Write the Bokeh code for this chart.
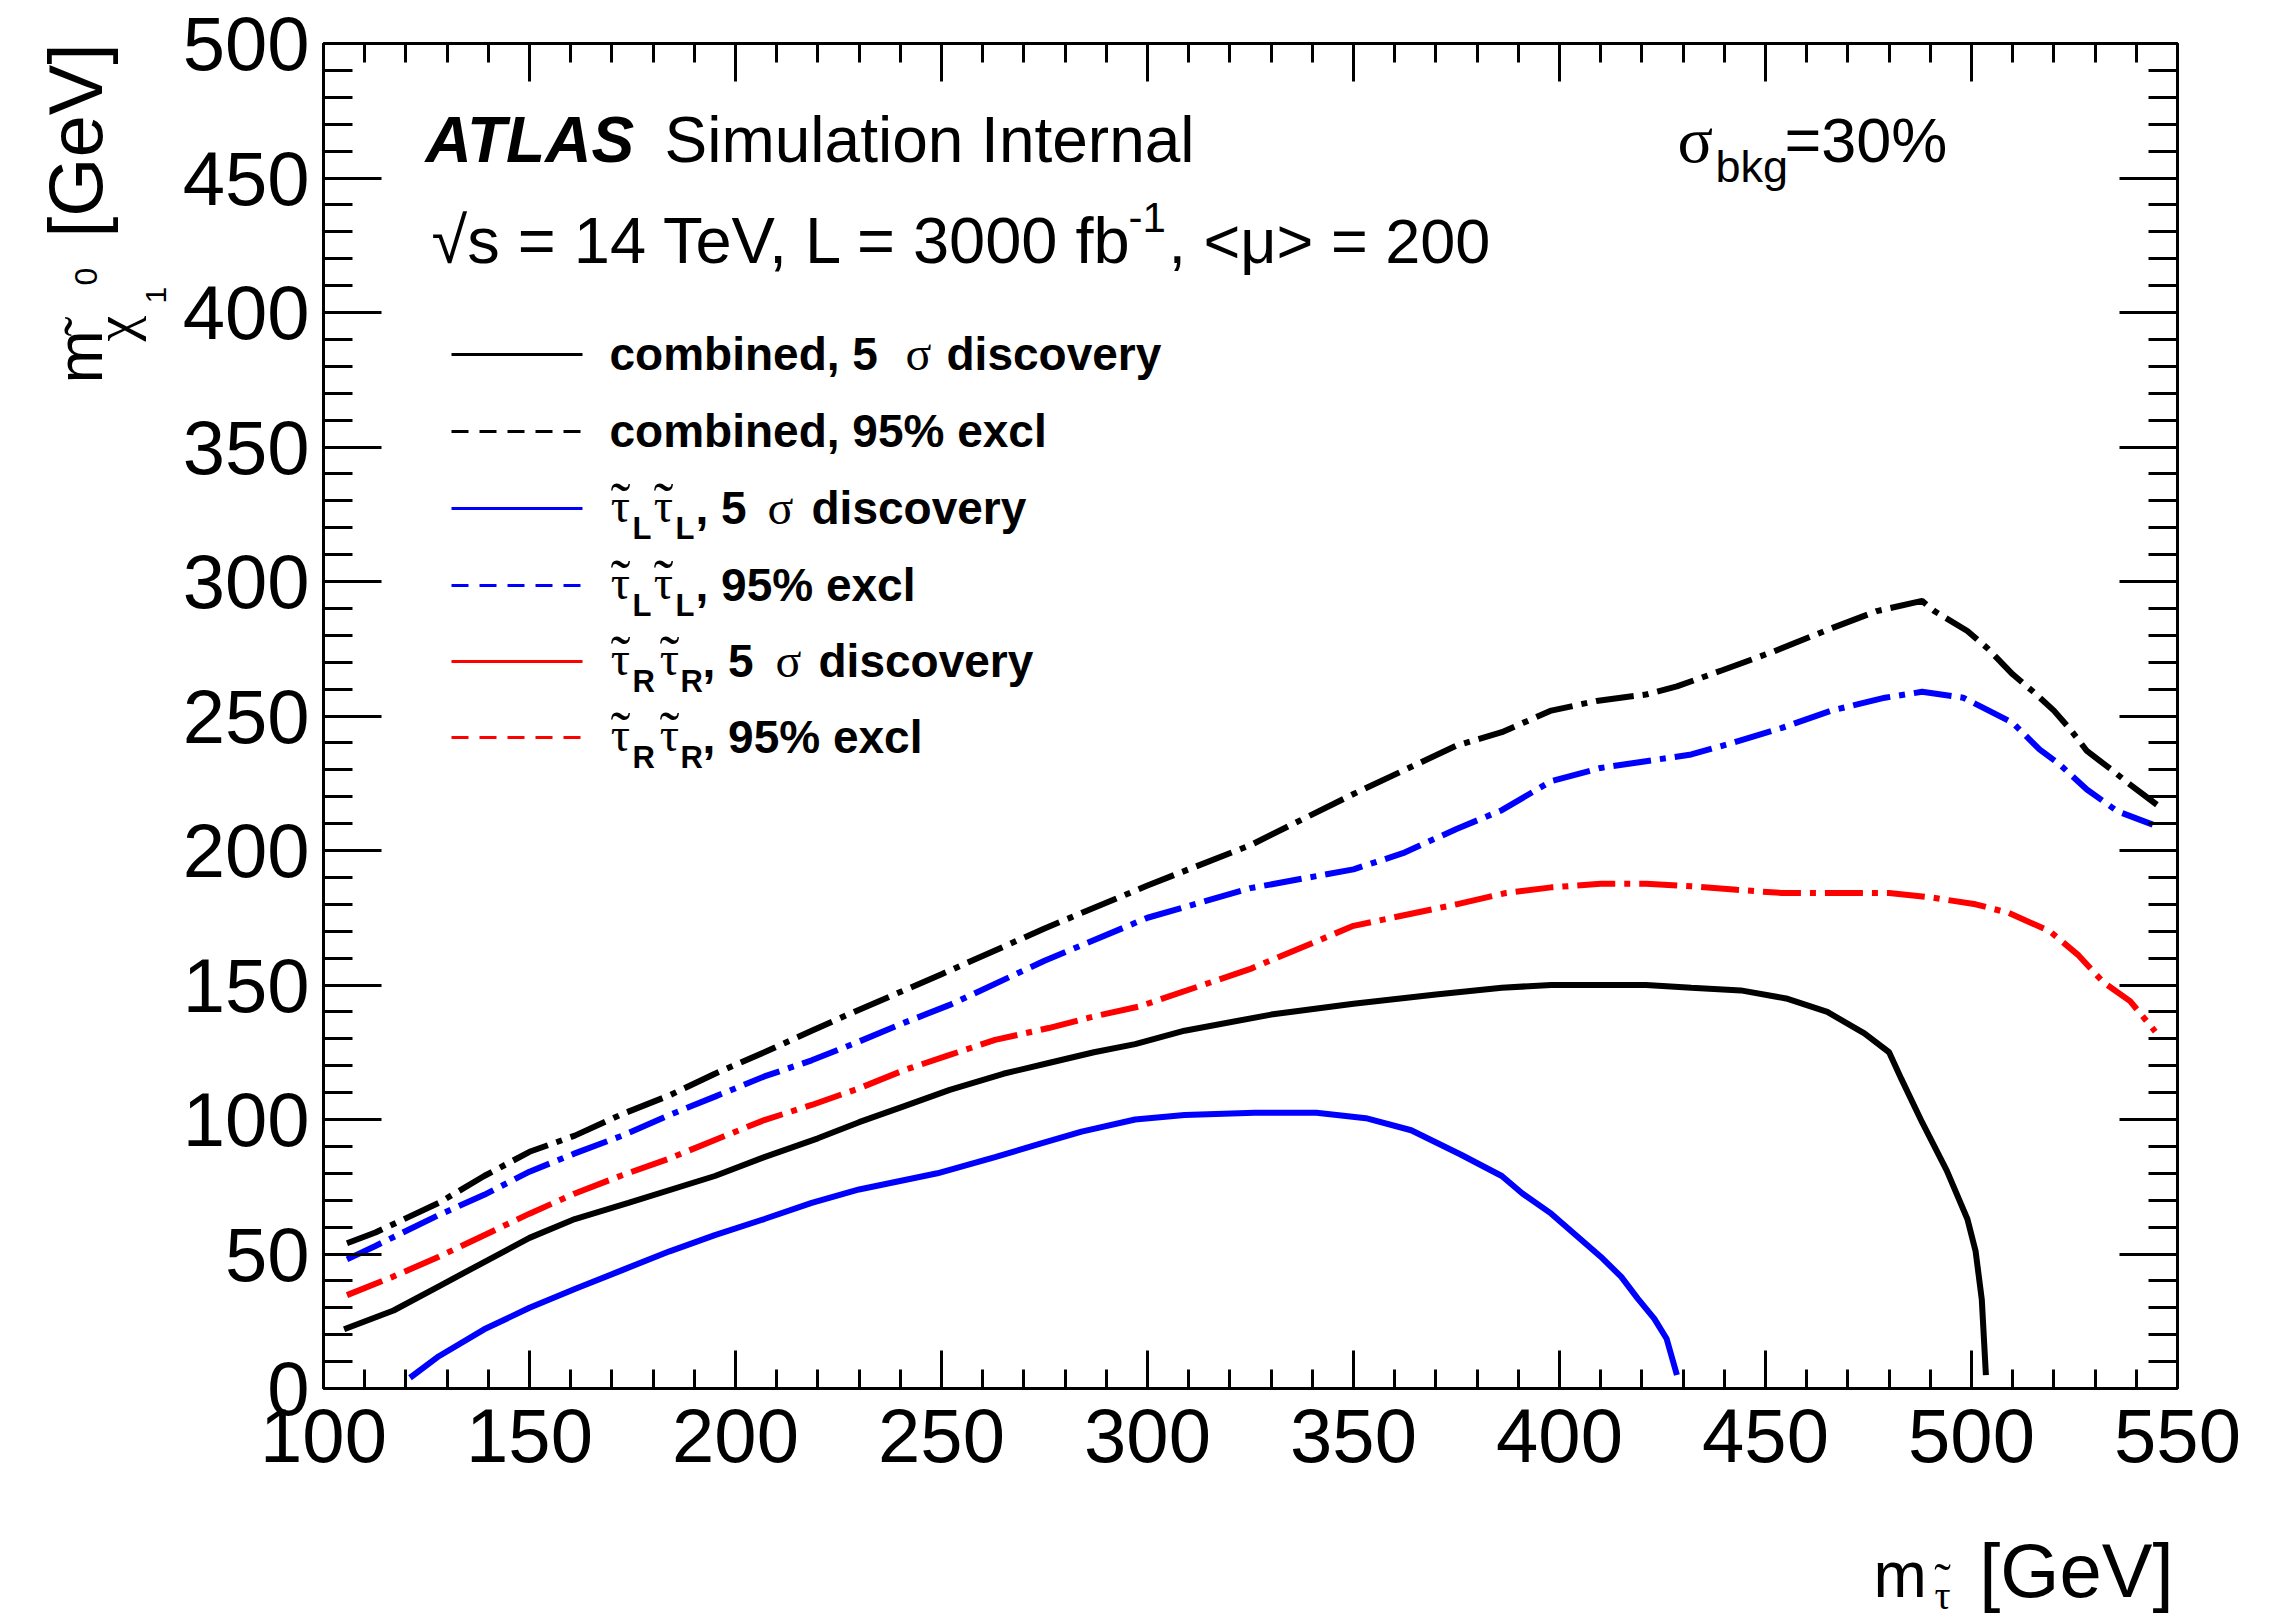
from bokeh.plotting import figure
from bokeh.models import Label, Arrow, LinearAxis, FixedTicker, BoxAnnotation, Range1d
from bokeh.embed import file_html
from bokeh.resources import INLINE
import math

# ---------------- data ----------------
comb_disc_x = [105, 117, 128, 139, 150, 161, 174, 195, 207, 220, 230, 241, 252, 265, 276, 287, 297, 309, 330, 350,
               370, 386, 398, 409, 421, 432, 444, 455, 465, 474, 480, 483, 488, 494, 499, 501, 502.5, 503.5]
comb_disc_y = [22, 29, 38, 47, 56, 63, 69, 79, 86, 93, 99, 105, 111, 117, 121, 125, 128, 133, 139, 143,
               146.5, 149, 150, 150, 150, 149, 148, 145, 140, 132, 125, 115, 99, 81, 63, 51, 33, 5]

comb_excl_x = [105.7, 112.6, 128, 139, 150, 161, 172.5, 184, 195, 207, 218.5, 228, 250, 275, 300, 325, 350, 375,
               386, 398, 409, 421, 428.5, 439.5, 452, 465, 477, 488, 491, 499, 504, 510, 515, 520, 524, 528, 534,
               538.5, 545]
comb_excl_y = [54, 58, 69, 79, 88, 94, 102, 109, 117, 125, 133, 139.5, 154, 171, 187, 202, 221, 239,
               244, 252, 255.6, 258, 261, 267, 274, 282, 289, 292.8, 289, 281.6, 275, 265.5, 259, 252, 245, 237, 230,
               224.5, 217]

L_disc_x = [121, 128, 139, 150, 161, 172.5, 184, 195, 207, 218.5, 230, 249, 263, 274, 284, 297, 309, 326, 341, 353,
            364, 376, 386, 391, 398, 404, 410, 415, 419, 423, 426, 428.5]
L_disc_y = [4, 12, 22, 30, 37, 44, 51, 57, 63, 69, 74, 80, 86, 91, 95.5, 100, 101.7, 102.5, 102.5, 100.5,
            96, 87, 79, 72.5, 65, 57, 49, 41.5, 33.4, 26, 18.5, 5]

L_excl_x = [105.7, 112.6, 128, 139, 150, 161, 172.5, 184, 195, 207, 218.5, 230, 241, 252, 275, 300, 325, 350, 362,
            375, 386, 398, 410, 421, 432, 442, 454, 466, 479, 488, 498, 510, 516.5, 521.4, 528, 535.4, 544]
L_excl_y = [48, 53, 64.5, 72, 80.6, 87.4, 94, 101.7, 108.5, 116, 122, 129, 136, 142.6, 159, 175, 186, 193, 199,
            208, 215, 225.8, 230.7, 233.2, 235.7, 240, 245.6, 252, 256.8, 259, 256.8, 247.5, 237.6, 232, 222.7,
            214.6, 209.6]

R_excl_x = [105.7, 116.8, 128, 139, 150, 161, 172.5, 184, 195, 207, 218.5, 230, 241, 252, 263, 276, 287, 298, 325,
            350, 375, 387, 398, 410, 421, 432, 443, 454, 469, 480, 490, 501, 509, 519, 526, 532, 538.5, 544.6]
R_excl_y = [34.7, 41.5, 49, 57, 65, 72.5, 79.3, 85.5, 92.4, 99.8, 105.4, 111.6, 118.4, 124, 129.6, 134, 138.3, 142,
            156, 172, 180, 184.2, 186.3, 187.6, 187.6, 186.7, 185.4, 184.2, 184.2, 184.2, 182.6, 180, 176.8, 170,
            161, 151, 144, 132.7]

x_ticks_major = [100, 150, 200, 250, 300, 350, 400, 450, 500, 550]
y_ticks_major = [0, 50, 100, 150, 200, 250, 300, 350, 400, 450, 500]
x_ticks_minor = list(range(100, 551, 10))
y_ticks_minor = list(range(0, 501, 10))
X_MIN, X_MAX = 100, 550
Y_MIN, Y_MAX = 0, 500

# ---------------- layout (pixel box of the axes inside the canvas) ----------------
W, H = 2289, 1620
FL, FR, FT, FB = 323, 2177, 43, 1388
KX = (FR - FL) / (X_MAX - X_MIN)
KY = (FB - FT) / (Y_MAX - Y_MIN)

SANS = "Liberation Sans"
SERIF = "Liberation Serif"

p = figure(width=W, height=H, title=None,
           x_range=Range1d(X_MIN - FL / KX, X_MAX + (W - FR) / KX),
           y_range=Range1d(Y_MIN - (H - FB) / KY, Y_MAX + FT / KY),
           output_backend="svg", toolbar_location=None,
           min_border=0, min_border_left=0, min_border_right=0, min_border_top=0, min_border_bottom=0)
p.grid.visible = False
p.background_fill_color = "white"
p.border_fill_color = "white"
p.outline_line_color = None

# frame box
p.add_layout(BoxAnnotation(left=X_MIN, right=X_MAX, bottom=Y_MIN, top=Y_MAX, fill_alpha=0,
                           line_color="black", line_width=3, level="underlay"))


def style_axis(ax, major, minor, show_labels, standoff):
    ax.axis_line_width = 3
    ax.axis_line_color = "black"
    ax.major_tick_line_width = 3
    ax.minor_tick_line_width = 3
    ax.major_tick_in = major
    ax.major_tick_out = 0
    ax.minor_tick_in = minor
    ax.minor_tick_out = 0
    ax.major_label_text_font = SANS
    ax.major_label_text_font_size = "76px"
    ax.major_label_standoff = standoff
    ax.axis_label = None
    if show_labels:
        ax.major_label_text_color = "black"
    else:
        ax.major_label_text_color = None


def xt():
    return FixedTicker(ticks=x_ticks_major, minor_ticks=x_ticks_minor)


def yt():
    return FixedTicker(ticks=y_ticks_major, minor_ticks=y_ticks_minor)


bx = p.xaxis[0]
bx.ticker = xt()
bx.fixed_location = Y_MIN
bx.bounds = (X_MIN, X_MAX)
style_axis(bx, 38, 19, True, 20)

ly = p.yaxis[0]
ly.ticker = yt()
ly.fixed_location = X_MIN
ly.bounds = (Y_MIN, Y_MAX)
style_axis(ly, 58, 29, True, 14)

top_ax = LinearAxis(ticker=xt(), fixed_location=Y_MAX, bounds=(X_MIN, X_MAX))
style_axis(top_ax, 38, 19, False, 0)
p.add_layout(top_ax, "above")
right_ax = LinearAxis(ticker=yt(), fixed_location=X_MAX, bounds=(Y_MIN, Y_MAX))
style_axis(right_ax, 58, 29, False, 0)
p.add_layout(right_ax, "right")

# ---------------- curves ----------------
LW = 6
DASH = "38 9 6 9"
p.line(comb_excl_x, comb_excl_y, line_color="black", line_width=LW, line_dash=DASH)
p.line(L_excl_x, L_excl_y, line_color="#0000ff", line_width=LW, line_dash=DASH)
p.line(R_excl_x, R_excl_y, line_color="#ff0000", line_width=LW, line_dash=DASH)
p.line(comb_disc_x, comb_disc_y, line_color="black", line_width=LW)
p.line(L_disc_x, L_disc_y, line_color="#0000ff", line_width=LW)


# ---------------- text helpers (fx, fy: canvas pixels from top-left; fy = baseline) ----------------
SHIFT = 0.35


def put(text, fx, fy, size, font=SANS, style="normal", align="left", rotated=False):
    if rotated:
        sx, sy, ang = fx - SHIFT * size, H - fy, math.pi / 2
    else:
        sx, sy, ang = fx, H - (fy - SHIFT * size), 0.0
    p.add_layout(Label(x=sx, y=sy, x_units="screen", y_units="screen", text=text,
                       text_font=font, text_font_size=f"{size}px", text_font_style=style,
                       text_align=align, text_baseline="alphabetic", angle=ang, text_color="black"))


def tau_tilde(cx, base, size=48, tsize=60):
    put("τ", cx, base, size, font=SERIF, align="center")
    put("˜", cx, base + 1, tsize, font=SERIF, align="center")


# header texts
put("ATLAS", 425, 162, 64, style="bold italic")
put("Simulation Internal", 664, 162, 64)
put("√s = 14 TeV, L = 3000 fb", 431, 263, 65)
put("-1", 1128, 232, 42)
put(", <μ> = 200", 1168, 263, 63)

put("σ", 1677, 162, 66, font=SERIF)
put("bkg", 1715, 182, 45)
put("=30%", 1784, 162, 63)

# axis titles
put("[GeV]", 2173, 1597, 76, align="right")
put("m", 1873, 1597, 64)
put("τ", 1942, 1609, 40, font=SERIF, align="center")
put("˜", 1942, 1598, 50, font=SERIF, align="center")

put("m", 102, 383, 64, rotated=True)
put("χ", 134, 341, 58, font=SERIF, rotated=True)
put("˜", 104, 326, 60, font=SERIF, align="center", rotated=True)
put("0", 97, 285, 32, rotated=True)
put("1", 166, 303, 30, rotated=True)
put("[GeV]", 102, 43, 76, align="right", rotated=True)

# ---------------- legend ----------------
LEG_Y = [354, 431, 508, 585, 661, 737]
LEG_COL = ["black", "black", "#0000ff", "#0000ff", "#ff0000", "#ff0000"]
LEG_DASH = ["solid", "17 11", "solid", "17 11", "solid", "17 11"]
for yy, cc, dd in zip(LEG_Y, LEG_COL, LEG_DASH):
    p.add_layout(Arrow(x_start=451, y_start=H - yy, x_end=582, y_end=H - yy,
                       start_units="screen", end_units="screen", start=None, end=None,
                       line_color=cc, line_width=3, line_dash=dd))

LF = 46
put("combined, 5", 609, 354 + 16, LF, style="bold")
put("σ", 905, 354 + 16, 48, font=SERIF)
put("discovery", 946, 354 + 16, LF, style="bold")
put("combined, 95% excl", 609, 431 + 16, LF, style="bold")


def tau_pair(yline, sub, x2, xsub2):
    base = yline + 14
    tau_tilde(620, base)
    put(sub, 632, yline + 31, 31, style="bold")
    tau_tilde(x2, base)
    put(sub, xsub2, yline + 31, 31, style="bold")


tau_pair(508, "L", 663, 675)
put(", 5", 695, 508 + 16, LF, style="bold")
put("σ", 767, 508 + 16, 48, font=SERIF)
put("discovery", 811, 508 + 16, LF, style="bold")
tau_pair(585, "L", 663, 675)
put(", 95% excl", 695, 585 + 16, LF, style="bold")
tau_pair(661, "R", 669, 680)
put(", 5", 702, 661 + 16, LF, style="bold")
put("σ", 775, 661 + 16, 48, font=SERIF)
put("discovery", 818, 661 + 16, LF, style="bold")
tau_pair(737, "R", 669, 680)
put(", 95% excl", 702, 737 + 16, LF, style="bold")

open("out.html", "w").write(file_html(p, INLINE))
